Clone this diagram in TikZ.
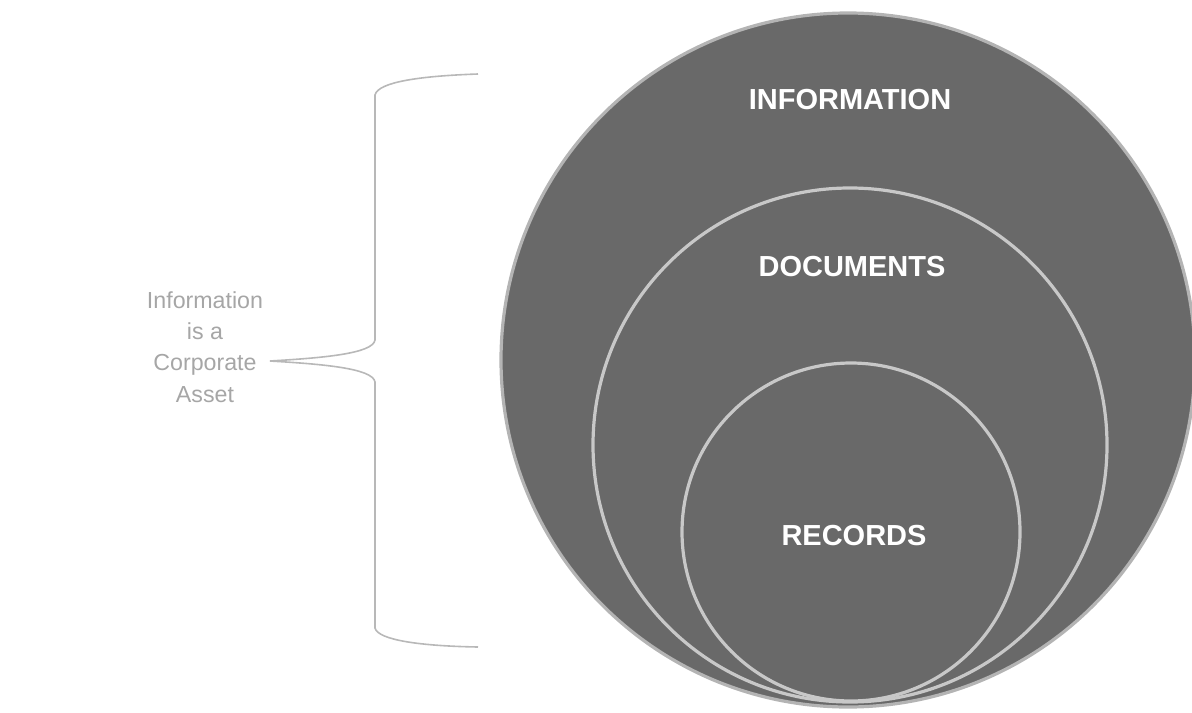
\documentclass[tikz,border=0pt]{standalone}
\usepackage{fontspec}
\setmainfont{Liberation Sans}
\definecolor{ringfill}{HTML}{696969}
\definecolor{ringline}{HTML}{C8C8C8}
\definecolor{outerline}{HTML}{B4B4B4}
\definecolor{bracecol}{HTML}{B8B8B8}
\definecolor{sidetext}{HTML}{A6A6A6}
\begin{document}
\begin{tikzpicture}[x=0.5pt,y=-0.5pt,
  ring/.style={circle, inner sep=0pt, fill=ringfill, draw=ringline, line width=1.6pt},
  lbl/.style={text=white, font=\bfseries\fontsize{14.5}{17}\selectfont, inner sep=0pt},
  side/.style={text=sidetext, align=center, font=\fontsize{11.6}{15.6}\selectfont, inner sep=0pt},
  brace/.style={draw=bracecol, line width=0.8pt}]
\useasboundingbox (0,0) rectangle (1192,712);
\node[ring, minimum size=347pt, draw=outerline] (info) at (848,360) {};
\node[ring, minimum size=257pt] (docs) at (850,445) {};
\node[ring, minimum size=169pt] (recs) at (851,532) {};
\node[lbl] (tinfo) at (850,100) {INFORMATION};
\node[lbl] (tdocs) at (852,267) {DOCUMENTS};
\node[lbl] (trecs) at (854,536) {RECORDS};
\node[side] (asset) at (205,347) {Information\\is a\\Corporate\\Asset};
\coordinate (bt) at (478,74);
\coordinate (bb) at (478,647);
\coordinate (tip) at (270,361);
\draw[brace] (bt) .. controls (420,76) and (378,82) .. (375,95) -- (375,340)
  .. controls (373,354) and (320,358) .. (tip)
  .. controls (320,364) and (373,368) .. (375,382) -- (375,628)
  .. controls (378,640) and (420,646) .. (bb);
\end{tikzpicture}
\end{document}
